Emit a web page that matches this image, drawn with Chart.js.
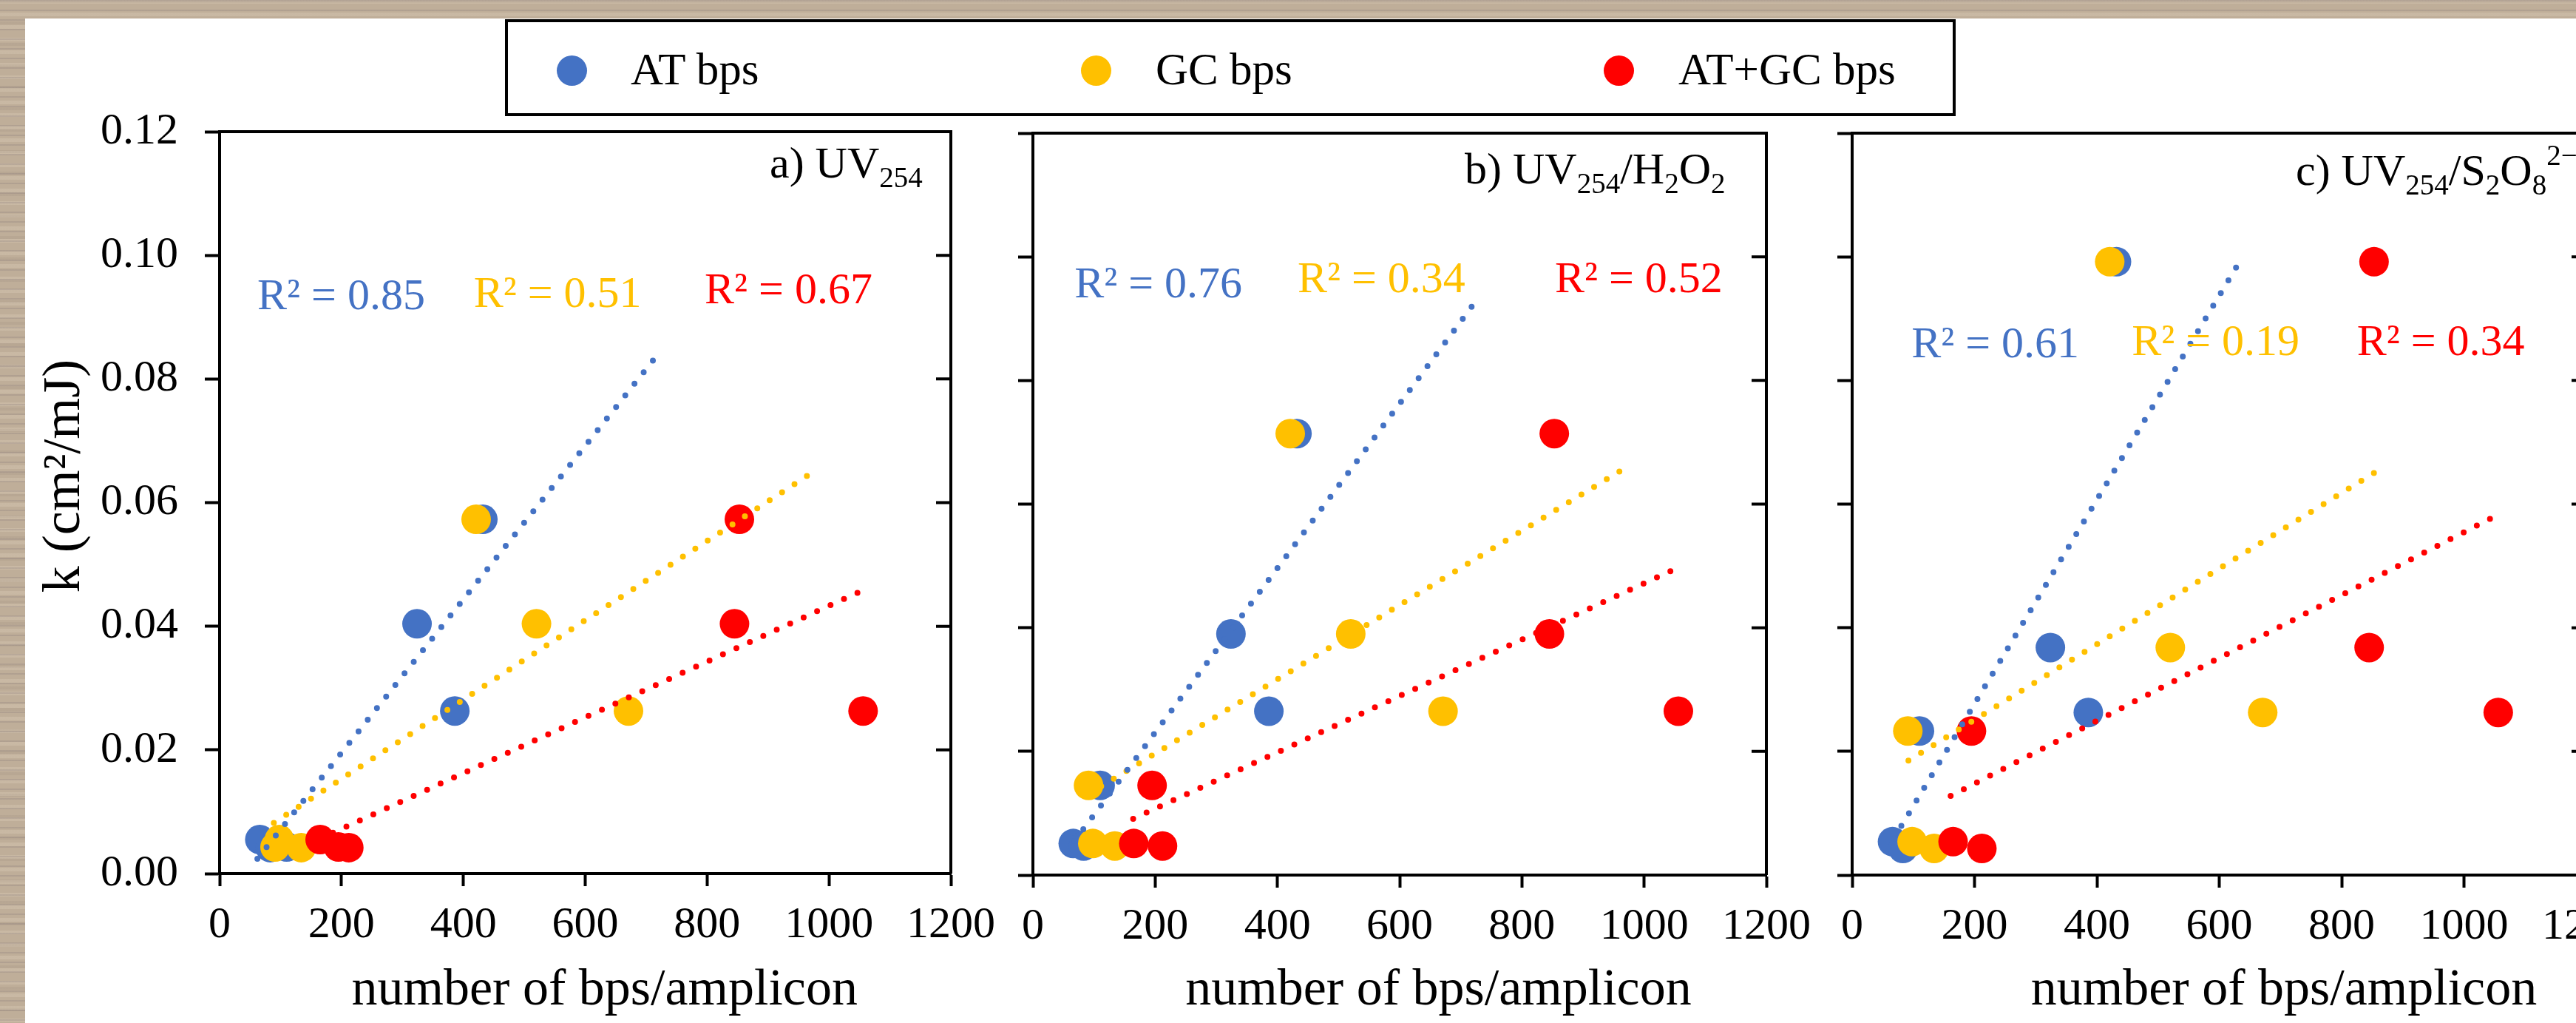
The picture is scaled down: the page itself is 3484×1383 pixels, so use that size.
<!DOCTYPE html>
<html>
<head>
<meta charset="utf-8">
<script src="https://cdn.jsdelivr.net/npm/chart.js@4.4.1/dist/chart.umd.min.js"></script>
<style>
  html, body { margin: 0; padding: 0; width: 3484px; height: 1383px; overflow: hidden; }
  body {
    position: relative;
    background-color: #bfae99;
    background-image:
      repeating-linear-gradient(180deg,
        rgba(100, 88, 100, 0.16) 0px, rgba(100, 88, 100, 0.16) 2px,
        rgba(0, 0, 0, 0) 2px, rgba(0, 0, 0, 0) 13px),
      repeating-linear-gradient(180deg,
        rgba(245, 232, 212, 0.18) 0px, rgba(245, 232, 212, 0.18) 5px,
        rgba(0, 0, 0, 0) 5px, rgba(0, 0, 0, 0) 17px),
      repeating-linear-gradient(180deg,
        rgba(120, 104, 96, 0.10) 0px, rgba(120, 104, 96, 0.10) 4px,
        rgba(0, 0, 0, 0) 4px, rgba(0, 0, 0, 0) 29px);
    font-family: "Liberation Serif", "Times New Roman", serif;
  }
  #sheet { position: absolute; left: 34px; top: 25px; right: 0; bottom: 0; background: #fff; }
  canvas.panel { position: absolute; top: 0; }
  #legend {
    position: absolute; left: 683px; top: 26px; width: 1962px; height: 131px;
    box-sizing: border-box; border: 4px solid #000; background: #fff;
  }
  #legend .dot { position: absolute; width: 41px; height: 41px; border-radius: 50%; }
  #legend .lbl { position: absolute; font-size: 61px; line-height: 61px; white-space: nowrap; color: #000; }
</style>
</head>
<body>
<div id="sheet"></div>
<div id="legend"></div>
<script>
const xTicks = [0, 200, 400, 600, 800, 1000, 1200];
const yTicks = [0, 0.02, 0.04, 0.06, 0.08, 0.10, 0.12];

const seriesNames = ['AT bps', 'GC bps', 'AT+GC bps'];
const seriesColors = ['#4472C4', '#FFC000', '#FF0000'];

// bps per amplicon, same six amplicons in all three panels
const atBps = [432, 324, 386, 110, 66, 83];
const gcBps = [421, 520, 671, 91, 98, 134];
const atgcBps = [853, 845, 1056, 195, 165, 212];

// k (cm2/mJ) of each amplicon
const kUV = [0.0573, 0.0404, 0.0263, 0.0043, 0.0055, 0.0042];
const kH2O2 = [0.0714, 0.0390, 0.0265, 0.0145, 0.0051, 0.0047];
const kS2O8 = [0.0992, 0.0368, 0.0263, 0.0233, 0.0054, 0.0043];

// trendline ends, order AT, GC, AT+GC
const trendUV_x = [[62, 725], [89, 970], [164, 1053]];
const trendUV_y = [[0.0024, 0.0847], [0.0082, 0.0647], [0.0056, 0.0457]];
const trendH2O2_x = [[68, 729], [91, 965], [164, 1044]];
const trendH2O2_y = [[0.0055, 0.0934], [0.0131, 0.0656], [0.0091, 0.0492]];
const trendS2O8_x = [[68, 629], [92, 867], [161, 1052]];
const trendS2O8_y = [[0.0059, 0.0985], [0.0185, 0.0659], [0.0128, 0.0581]];

const r2UV = ['0.85', '0.51', '0.67'];
const r2H2O2 = ['0.76', '0.34', '0.52'];
const r2S2O8 = ['0.61', '0.19', '0.34'];

const PAGE_H = 1383;
const RIGHT_PAD = 80;

Chart.defaults.font.family = '"Liberation Serif", "Times New Roman", serif';
Chart.defaults.color = '#000';

const panels = [
  { left: 297, top: 178, bottom: 1181, width: 989, yw: 297, showY: true,
    k: kUV, tx: trendUV_x, ty: trendUV_y, r2: r2UV,
    r2x: [62, 417, 796], r2y: [0.0913, 0.0917, 0.0922],
    title: [['a) UV', 0], ['254', -1]], titleDx: 744, titleDy: 62, xPad: 3 },
  { left: 1397, top: 180, bottom: 1183, width: 992, yw: 80, showY: false,
    k: kH2O2, tx: trendH2O2_x, ty: trendH2O2_y, r2: r2H2O2,
    r2x: [68, 433, 854], r2y: [0.0934, 0.0943, 0.0943],
    title: [['b) UV', 0], ['254', -1], ['/H', 0], ['2', -1], ['O', 0], ['2', -1]],
    titleDx: 584, titleDy: 68, xPad: 6 },
  { left: 2505, top: 180, bottom: 1183, width: 993, yw: 80, showY: false,
    k: kS2O8, tx: trendS2O8_x, ty: trendS2O8_y, r2: r2S2O8,
    r2x: [97, 457, 825], r2y: [0.0838, 0.0841, 0.0841],
    title: [['c) UV', 0], ['254', -1], ['/S', 0], ['2', -1], ['O', 0], ['8', -1], ['2\u2212', 1]],
    titleDx: 600, titleDy: 70, xPad: 10 }
];

function drawRich(ctx, parts, x, y) {
  parts.forEach(([t, kind]) => {
    const size = kind === 0 ? 60 : 39;
    const dy = kind < 0 ? 13 : (kind > 0 ? -27 : 0);
    ctx.font = size + 'px "Liberation Serif"';
    ctx.fillText(t, x, y + dy);
    x += ctx.measureText(t).width;
  });
}

function makePanel(p) {
  const cv = document.createElement('canvas');
  cv.className = 'panel';
  cv.width = p.yw + p.width + RIGHT_PAD;
  cv.height = PAGE_H;
  cv.style.left = (p.left - p.yw) + 'px';
  document.body.appendChild(cv);

  const xs = [atBps, gcBps, atgcBps];
  const datasets = [];
  for (let s = 0; s < 3; s++) {
    datasets.push({
      label: seriesNames[s] + ' trend',
      data: p.tx[s].map((x, i) => ({ x: x, y: p.ty[s][i] })),
      showLine: true,
      borderColor: seriesColors[s],
      borderWidth: 8,
      borderDash: [0, 20],
      borderCapStyle: 'round',
      pointRadius: 0,
      fill: false,
      order: 0
    });
  }
  // red on top, then yellow, then blue
  for (let s = 2; s >= 0; s--) {
    datasets.push({
      label: seriesNames[s],
      data: xs[s].map((x, i) => ({ x: x, y: p.k[i] })),
      backgroundColor: seriesColors[s],
      borderWidth: 0,
      pointRadius: 20,
      pointHoverRadius: 20,
      order: 3 - s
    });
  }

  const framePlugin = {
    id: 'frame',
    afterDraw(chart) {
      const { ctx, chartArea: ca, scales } = chart;
      ctx.save();
      ctx.strokeStyle = '#000';
      ctx.lineWidth = 4;
      ctx.beginPath();
      ctx.moveTo(ca.left, ca.top);
      ctx.lineTo(ca.right, ca.top);
      ctx.lineTo(ca.right, ca.bottom);
      scales.y.ticks.forEach(t => {
        const y = scales.y.getPixelForValue(t.value);
        ctx.moveTo(ca.right - 20, y);
        ctx.lineTo(ca.right, y);
      });
      ctx.stroke();

      ctx.textAlign = 'left';
      ctx.textBaseline = 'alphabetic';
      ctx.font = '60px "Liberation Serif"';
      p.r2.forEach((v, i) => {
        ctx.fillStyle = seriesColors[i];
        ctx.fillText('R\u00b2 = ' + v, scales.x.getPixelForValue(p.r2x[i]), scales.y.getPixelForValue(p.r2y[i]));
      });

      ctx.fillStyle = '#000';
      drawRich(ctx, p.title, ca.left + p.titleDx, ca.top + p.titleDy);
      ctx.restore();
    }
  };

  new Chart(cv.getContext('2d'), {
    type: 'scatter',
    data: { datasets: datasets },
    options: {
      responsive: false,
      animation: false,
      events: [],
      layout: { padding: { left: 0, right: RIGHT_PAD, top: p.top, bottom: 0 } },
      plugins: { legend: { display: false }, tooltip: { enabled: false } },
      scales: {
        x: {
          type: 'linear', min: 0, max: 1200,
          afterBuildTicks: s => { s.ticks = xTicks.map(v => ({ value: v })); },
          afterFit: s => { s.height = PAGE_H - p.bottom; },
          grid: { drawOnChartArea: false, drawTicks: true, tickLength: 17, tickWidth: 4, tickColor: '#000' },
          border: { display: true, color: '#000', width: 4 },
          ticks: { font: { size: 60 }, color: '#000', padding: 17, maxRotation: 0, autoSkip: false,
                   callback: v => String(v) },
          title: { display: true, text: ' '.repeat(p.xPad) + 'number of bps/amplicon',
                   font: { size: 70 }, color: '#000', padding: { top: 0, bottom: 1 } }
        },
        y: {
          type: 'linear', min: 0, max: 0.12,
          afterBuildTicks: s => { s.ticks = yTicks.map(v => ({ value: v })); },
          afterFit: s => { s.width = p.yw; },
          grid: { drawOnChartArea: false, drawTicks: true, tickLength: 20, tickWidth: 4, tickColor: '#000' },
          border: { display: true, color: '#000', width: 4 },
          ticks: { display: p.showY, font: { size: 60 }, color: '#000', padding: 36,
                   callback: v => v.toFixed(2) },
          title: { display: p.showY, text: '    k (cm\u00b2/mJ)', font: { size: 72 }, color: '#000',
                   padding: { top: 45, bottom: 0 } }
        }
      }
    },
    plugins: [framePlugin]
  });
}

panels.forEach(makePanel);

// shared legend box above the panels
const legendDotX = [86, 795, 1502];
const legendTextX = [166, 876, 1583];
const legend = document.getElementById('legend');
seriesNames.forEach((name, i) => {
  const dot = document.createElement('div');
  dot.className = 'dot';
  dot.style.background = seriesColors[i];
  dot.style.left = (legendDotX[i] - 20.5) + 'px';
  dot.style.top = (65 - 20.5) + 'px';
  legend.appendChild(dot);
  const lbl = document.createElement('div');
  lbl.className = 'lbl';
  lbl.textContent = name;
  lbl.style.left = legendTextX[i] + 'px';
  lbl.style.top = '33px';
  legend.appendChild(lbl);
});
</script>
</body>
</html>
